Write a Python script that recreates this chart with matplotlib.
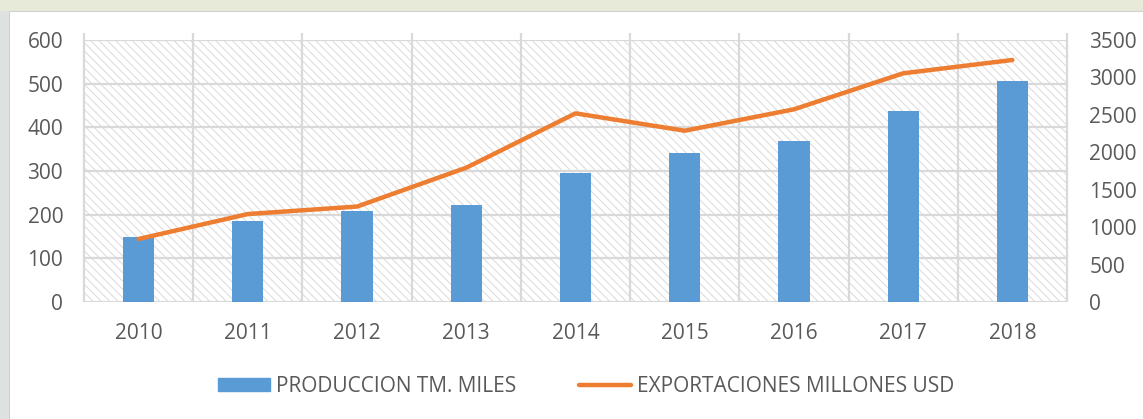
import matplotlib
matplotlib.use("Agg")
import matplotlib.pyplot as plt
from matplotlib.patches import Rectangle
import matplotlib.lines as mlines
import matplotlib.patches as mpatches
import numpy as np

years = ["2010", "2011", "2012", "2013", "2014", "2015", "2016", "2017", "2018"]
produccion = [150, 186, 208, 222, 296, 341, 369, 437, 506]
exportaciones = [842, 1175, 1275, 1794, 2520, 2288, 2574, 3055, 3233]

BLUE = "#5B9BD5"
ORANGE = "#ED7D31"
TXT = "#595959"
GRID = "#D9D9D9"
FONT = "Open Sans"
FS = 15

plt.rcParams["font.family"] = [FONT, "DejaVu Sans"]
plt.rcParams["hatch.linewidth"] = 0.7

W, H = 1143, 419
fig = plt.figure(figsize=(W / 100, H / 100), dpi=100)
fig.patch.set_facecolor("#DDE1E0")
fig.add_artist(Rectangle((0, 1 - 11 / H), 1, 11 / H, transform=fig.transFigure,
                         facecolor="#E7E9D9", edgecolor="none", zorder=-3))
fig.add_artist(Rectangle((9 / W, 0), 1, 1 - 11 / H, transform=fig.transFigure,
                         facecolor="white", edgecolor="#D0D0D0", linewidth=0.8, zorder=-2))

left, right, top, bottom = 84, 1067, 40, 302
ax = fig.add_axes([left / W, 1 - bottom / H, (right - left) / W, (bottom - top) / H])
ax.patch.set_alpha(0)
ax2 = ax.twinx()

n = len(years)
x = np.arange(n)
ax.set_xlim(-0.5, n - 0.5)
ax.set_ylim(0, 600)
ax2.set_ylim(0, 3500)

# hatched plot area
ax.add_patch(Rectangle((-0.5, 0), n, 600, facecolor="white", edgecolor="#DADADA",
                       linewidth=0, hatch="\\\\\\\\", zorder=0))
for yv in range(0, 601, 100):
    ax.axhline(yv, color=GRID, lw=1.6, zorder=1)
ax.vlines(np.arange(-0.5, n), 0, 616, colors=GRID, lw=1.6, zorder=1, clip_on=False)

ax.bar(x, produccion, width=0.285, color=BLUE, zorder=2)
ax2.plot(x, exportaciones, color=ORANGE, lw=3.2, solid_capstyle="round", zorder=3)

for a in (ax, ax2):
    for s in a.spines.values():
        s.set_visible(False)

ax.set_yticks(range(0, 601, 100))
ax2.set_yticks(range(0, 3501, 500))
ax.set_xticks(x)
ax.set_xticklabels(years)
ax.tick_params(axis="both", length=0, labelsize=FS, labelcolor=TXT)
ax.tick_params(axis="y", pad=15)
ax.tick_params(axis="x", pad=15)
ax2.tick_params(axis="y", length=0, labelsize=FS, labelcolor=TXT, pad=16)

h1 = mpatches.Patch(color=BLUE, label="PRODUCCION TM. MILES")
h2 = mlines.Line2D([], [], color=ORANGE, lw=3.2, solid_capstyle="round",
                   label="EXPORTACIONES MILLONES USD")
fig.legend(handles=[h1, h2], loc="center", bbox_to_anchor=(586 / W, 1 - 386 / H),
           ncol=2, frameon=False, fontsize=FS, labelcolor=TXT,
           handlelength=2.5, handleheight=0.6, handletextpad=0.3, columnspacing=3.0)

fig.savefig("out.png", dpi=100, facecolor=fig.get_facecolor())
